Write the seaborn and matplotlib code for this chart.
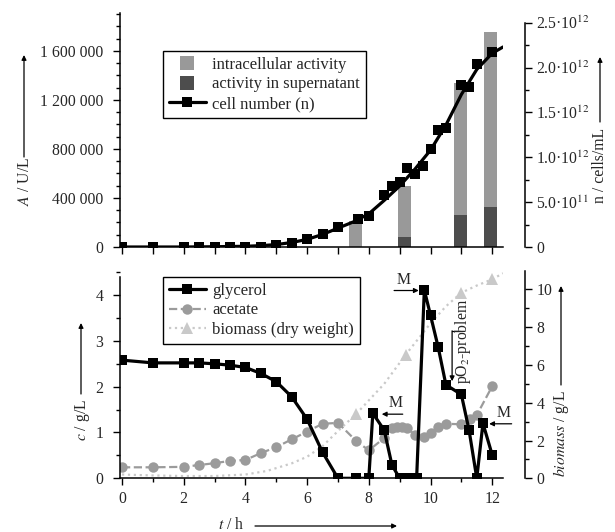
import numpy as np
import pandas as pd
import matplotlib
matplotlib.use("Agg")
import matplotlib.pyplot as plt
from matplotlib.ticker import MultipleLocator, FixedLocator, NullFormatter
from matplotlib.lines import Line2D
import seaborn as sns

# ---------------- data ----------------
# top panel: cell number n (cells/mL, right axis)
n_t = [0, 1, 2, 2.5, 3, 3.5, 4, 4.5, 5, 5.5, 6, 6.5, 7, 7.65, 8, 8.5, 8.75, 9,
       9.25, 9.5, 9.75, 10, 10.25, 10.5, 11, 11.25, 11.5, 12]
n_val = [0, 0, 0, 0, 0, 0, 0, 0, 0.02e12, 0.05e12, 0.09e12, 0.145e12, 0.225e12,
         0.31e12, 0.345e12, 0.575e12, 0.675e12, 0.72e12, 0.88e12, 0.815e12,
         0.905e12, 1.09e12, 1.30e12, 1.33e12, 1.81e12, 1.78e12, 2.04e12, 2.17e12]
# fitted curve of n
nfit_t = [0, 1, 2, 3, 4, 4.5, 5, 5.5, 6, 6.5, 7, 7.5, 8, 8.5, 9, 9.5, 10, 10.5,
          11, 11.5, 12, 12.35]
nfit_val = [0, 0, 0, 0.003e12, 0.008e12, 0.015e12, 0.027e12, 0.05e12, 0.085e12,
            0.14e12, 0.21e12, 0.28e12, 0.37e12, 0.52e12, 0.68e12, 0.87e12,
            1.08e12, 1.36e12, 1.70e12, 1.98e12, 2.16e12, 2.23e12]
# activity bars (U/L, left axis)
bar_t = [7.57, 9.17, 10.96, 11.96]
bar_total = [215000, 500000, 1341000, 1755000]
bar_super = [0, 84000, 260000, 330000]

# bottom panel
gl_t = [0, 1, 2, 2.5, 3, 3.5, 4, 4.5, 5, 5.5, 6, 6.5, 7, 7.6, 8, 8.13, 8.5, 8.75,
        9, 9.2, 9.37, 9.55, 9.8, 10, 10.25, 10.5, 11, 11.25, 11.5, 11.7, 12]
gl_c = [2.58, 2.52, 2.52, 2.52, 2.50, 2.47, 2.42, 2.29, 2.11, 1.78, 1.29, 0.57,
        0, 0, 0, 1.42, 1.05, 0.29, 0, 0, 0, 0, 4.11, 3.56, 2.86, 2.04, 1.83,
        1.05, 0, 1.20, 0.51]
ac_t = [0, 1, 2, 2.5, 3, 3.5, 4, 4.5, 5, 5.5, 6, 6.5, 7, 7.6, 8, 8.5, 8.75, 8.92,
        9.08, 9.25, 9.5, 9.78, 10, 10.25, 10.5, 11, 11.27, 11.5, 12]
ac_c = [0.24, 0.24, 0.25, 0.29, 0.33, 0.38, 0.40, 0.55, 0.68, 0.85, 1.02, 1.19,
        1.21, 0.81, 0.61, 0.88, 1.10, 1.13, 1.13, 1.10, 0.94, 0.91, 0.98, 1.11,
        1.19, 1.18, 1.29, 1.38, 2.01]
bm_t = [7.6, 9.2, 11.0, 12.0]
bm_val = [3.42, 6.55, 9.82, 10.53]
bmfit_t = [0, 1, 2, 3, 4, 4.7, 5.5, 6, 6.5, 7, 7.6, 8.5, 9.2, 10, 10.5, 11, 11.5,
           12, 12.35]
bmfit_val = [0.2, 0.15, 0.12, 0.12, 0.2, 0.39, 0.79, 1.14, 1.7, 2.5, 3.42, 5.0,
             6.55, 8.2, 9.1, 9.82, 10.2, 10.53, 10.85]

top_left_ticks = [0, 400000, 800000, 1200000, 1600000]
top_left_labels = ["0", "400 000", "800 000", "1 200 000", "1 600 000"]
top_right_ticks = [0, 0.5e12, 1.0e12, 1.5e12, 2.0e12, 2.5e12]
top_right_labels = ["0", "5.0·10$^{11}$", "1.0·10$^{12}$", "1.5·10$^{12}$",
                    "2.0·10$^{12}$", "2.5·10$^{12}$"]

# ---------------- style ----------------
sns.set_style("ticks")
plt.rcParams["font.family"] = ["Liberation Serif", "DejaVu Serif"]
plt.rcParams["mathtext.fontset"] = "stix"
FS = 11.3
LFS = 12.0
plt.rcParams["font.size"] = FS

W, H = 615, 532
fig = plt.figure(figsize=(W / 100, H / 100), dpi=100)

def fx(x):
    return x / W

def fy(y):
    return 1 - y / H

x_left, x_right = 120, 503
ax1 = fig.add_axes([fx(x_left), fy(247), (x_right - x_left) / W, (247 - 13) / H])
ax2 = ax1.twinx()
ax3 = fig.add_axes([fx(x_left), fy(478.3), (x_right - x_left) / W, (478.3 - 271) / H])
ax4 = ax3.twinx()

XLIM = (-0.065, 12.35)

LIGHT = "#999999"
DARK = "#4d4d4d"
ACET = "#9b9b9b"
BIOM = "#c9c9c9"

# ---------------- top panel ----------------
sns.barplot(x=bar_t, y=bar_total, native_scale=True, width=0.42, color=LIGHT,
            saturation=1, linewidth=0, errorbar=None, ax=ax1)
sns.barplot(x=bar_t, y=bar_super, native_scale=True, width=0.42, color=DARK,
            saturation=1, linewidth=0, errorbar=None, ax=ax1)

sns.lineplot(x=nfit_t, y=nfit_val, color="black", linewidth=2.3, estimator=None,
             sort=False, ax=ax2)
sns.lineplot(x=n_t, y=n_val, color="black", linestyle="", marker="s",
             markersize=7, markeredgewidth=0, estimator=None, sort=False, ax=ax2)

ax1.set_xlim(*XLIM)
ax1.set_ylim(0, 1.91e6)
ax2.set_ylim(0, 2.609e12)
ax1.set_xlabel("")
ax1.set_ylabel("")
ax2.set_ylabel("")
ax1.xaxis.set_major_locator(FixedLocator(list(range(13))))
ax1.xaxis.set_major_formatter(NullFormatter())
ax1.yaxis.set_major_locator(FixedLocator(top_left_ticks))
ax1.set_yticklabels(top_left_labels)
ax1.yaxis.set_minor_locator(MultipleLocator(100000))
ax2.yaxis.set_major_locator(FixedLocator(top_right_ticks))
ax2.set_yticklabels(top_right_labels)
ax2.yaxis.set_minor_locator(MultipleLocator(0.25e12))

# ---------------- bottom panel ----------------
sns.lineplot(x=bmfit_t, y=bmfit_val, color=BIOM, linestyle=":", linewidth=1.6,
             estimator=None, sort=False, ax=ax4)
sns.lineplot(x=bm_t, y=bm_val, color=BIOM, linestyle="", marker="^",
             markersize=8, markeredgewidth=0, estimator=None, sort=False, ax=ax4)
ax3.set_zorder(ax4.get_zorder() + 1)
ax3.patch.set_visible(False)
sns.lineplot(x=ac_t, y=ac_c, color=ACET, linestyle="--", linewidth=1.6,
             marker="o", markersize=7.5, markeredgewidth=0, estimator=None,
             sort=False, ax=ax3)
sns.lineplot(x=gl_t, y=gl_c, color="black", linewidth=2.3, marker="s",
             markersize=6.5, markeredgewidth=0, estimator=None, sort=False, ax=ax3)

ax3.set_xlim(*XLIM)
ax3.set_ylim(0, 4.526)
ax4.set_ylim(0, 10.97)
ax3.set_xlabel("")
ax3.set_ylabel("")
ax4.set_ylabel("")
ax3.xaxis.set_major_locator(MultipleLocator(2))
ax3.xaxis.set_minor_locator(MultipleLocator(1))
ax3.yaxis.set_major_locator(MultipleLocator(1))
ax3.yaxis.set_minor_locator(MultipleLocator(0.5))
ax4.yaxis.set_major_locator(MultipleLocator(2))
ax4.yaxis.set_minor_locator(MultipleLocator(1))
ax3.xaxis.set_major_formatter(plt.FuncFormatter(lambda v, p: f"{v:.0f}"))
ax3.yaxis.set_major_formatter(plt.FuncFormatter(lambda v, p: f"{v:.0f}"))
ax4.yaxis.set_major_formatter(plt.FuncFormatter(lambda v, p: f"{v:.0f}"))

# ---------------- spines / ticks ----------------
for a in (ax1, ax3):
    a.spines["top"].set_visible(False)
    a.spines["right"].set_visible(False)
for a in (ax2, ax4):
    a.spines["top"].set_visible(False)
    a.spines["left"].set_visible(False)
    a.spines["bottom"].set_visible(False)
    a.spines["right"].set_position(("outward", 16))
ax2.spines["right"].set_bounds(0, 2.5e12)
ax3.spines["left"].set_bounds(0, 4.4)
for a in (ax1, ax2, ax3, ax4):
    for s in a.spines.values():
        s.set_linewidth(1.1)
        s.set_color("black")
    a.tick_params(which="major", length=5, width=1.0, color="black",
                  labelsize=FS, direction="out")
    a.tick_params(which="minor", length=3, width=1.0, color="black",
                  direction="out")
    a.grid(False)
ax1.tick_params(axis="y", which="major", pad=7)
ax3.tick_params(axis="y", which="major", pad=7)
ax2.tick_params(axis="y", which="major", pad=3)
ax4.tick_params(axis="y", which="major", pad=3)
ax3.tick_params(axis="x", which="major", pad=4)

# ---------------- legends ----------------
h_top = [
    Line2D([], [], linestyle="", marker="s", markersize=10, color=LIGHT, markeredgewidth=0),
    Line2D([], [], linestyle="", marker="s", markersize=10, color=DARK, markeredgewidth=0),
    Line2D([], [], color="black", linewidth=2.3, marker="s", markersize=6.5, markeredgewidth=0),
]
leg1 = ax1.legend(h_top, ["intracellular activity", "activity in supernatant",
                          "cell number (n)"],
                  loc="upper left", bbox_to_anchor=(fx(163), fy(51)),
                  bbox_transform=fig.transFigure, frameon=True, fancybox=False,
                  edgecolor="black", framealpha=1, borderaxespad=0,
                  handlelength=2.2, handletextpad=0.4, labelspacing=0.22,
                  borderpad=0.35, fontsize=LFS)
leg1.get_frame().set_linewidth(1.0)

h_bot = [
    Line2D([], [], color="black", linewidth=2.3, marker="s", markersize=6.5, markeredgewidth=0),
    Line2D([], [], color=ACET, linewidth=1.6, linestyle="--", marker="o", markersize=7.5, markeredgewidth=0),
    Line2D([], [], color=BIOM, linewidth=1.6, linestyle=":", marker="^", markersize=8, markeredgewidth=0),
]
leg2 = ax3.legend(h_bot, ["glycerol", "acetate", "biomass (dry weight)"],
                  loc="upper left", bbox_to_anchor=(fx(163), fy(277)),
                  bbox_transform=fig.transFigure, frameon=True, fancybox=False,
                  edgecolor="black", framealpha=1, borderaxespad=0,
                  handlelength=2.2, handletextpad=0.4, labelspacing=0.22,
                  borderpad=0.35, fontsize=LFS)
leg2.get_frame().set_linewidth(1.0)

# ---------------- annotations (bottom) ----------------
arr = dict(arrowstyle="-|>", color="black", lw=0.9, mutation_scale=7,
           shrinkA=0, shrinkB=0)
ax3.annotate("", xy=(9.62, 4.10), xytext=(8.82, 4.10), arrowprops=arr)
ax3.text(9.12, 4.16, "M", ha="center", va="bottom", fontsize=FS)
ax3.annotate("", xy=(8.42, 1.40), xytext=(9.1, 1.40), arrowprops=arr)
ax3.text(8.88, 1.46, "M", ha="center", va="bottom", fontsize=FS)
ax3.annotate("", xy=(11.9, 1.19), xytext=(12.63, 1.19), arrowprops=arr,
             annotation_clip=False)
ax3.text(12.36, 1.25, "M", ha="center", va="bottom", fontsize=FS, clip_on=False)
ax3.plot([10.96, 10.70], [3.22, 3.22], color="black", lw=0.9)
ax3.annotate("", xy=(10.70, 2.12), xytext=(10.70, 3.22), arrowprops=arr)
ax3.text(11.05, 2.98, "pO$_2$-problem", rotation=90, ha="center", va="center",
         fontsize=FS)

# ---------------- axis labels with arrows ----------------
def fig_arrow(x0, y0, x1, y1):
    fig.add_artist(plt.matplotlib.patches.FancyArrowPatch(
        (fx(x0), fy(y0)), (fx(x1), fy(y1)), transform=fig.transFigure,
        arrowstyle="-|>", mutation_scale=7, lw=0.9, color="black",
        shrinkA=0, shrinkB=0))

fig.text(fx(25), fy(182), r"$\mathit{A}$ / U/L", rotation=90, ha="center",
         va="center", fontsize=FS)
fig_arrow(24, 157, 24, 55)
fig.text(fx(600), fy(165), "n / cells/mL", rotation=90, ha="center",
         va="center", fontsize=FS)
fig_arrow(600, 122, 600, 57)
fig.text(fx(82), fy(420), r"$\mathit{c}$ / g/L", rotation=90, ha="center",
         va="center", fontsize=FS)
fig_arrow(81, 394, 81, 323)
fig.text(fx(561), fy(434), r"$\mathit{biomass}$ / g/L", rotation=90,
         ha="center", va="center", fontsize=FS)
fig_arrow(561, 385, 561, 286)
fig.text(fx(231), fy(525), r"$\mathit{t}$ / h", ha="center", va="center",
         fontsize=FS)
fig_arrow(255, 526, 397, 526)

fig.savefig("out.png", dpi=100)
